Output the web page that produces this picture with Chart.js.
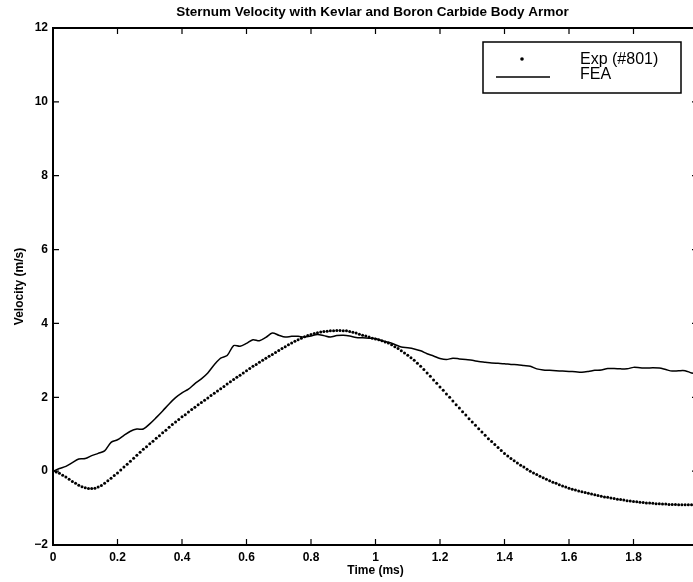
<!DOCTYPE html>
<html>
<head>
<meta charset="utf-8">
<script src="https://cdn.jsdelivr.net/npm/chart.js@4/dist/chart.umd.min.js"></script>
<style>
html,body{margin:0;padding:0;background:#fff;overflow:hidden;}
canvas{display:block;}
</style>
</head>
<body>
<canvas id="c" width="700" height="582"></canvas>
<script>
// ---- data ----
const chartTitle = 'Sternum Velocity with Kevlar and Boron Carbide Body Armor';
const xTitle = 'Time (ms)';
const yTitle = 'Velocity (m/s)';
const seriesNames = ['Exp (#801)', 'FEA'];
const xTickLabels = ['0','0.2','0.4','0.6','0.8','1','1.2','1.4','1.6','1.8','2'];
const yTickLabels = ['\u22122','0','2','4','6','8','10','12'];

// Exp (#801): sampled every 0.01 ms from 0 to 2 ms
const expStart = 0, expStep = 0.01;
const expVelocity = [
 0.00,-0.02,-0.06,-0.11,-0.16,-0.22,-0.28,-0.33,-0.38,-0.42,
-0.45,-0.47,-0.47,-0.46,-0.43,-0.39,-0.33,-0.26,-0.19,-0.12,
-0.05, 0.03, 0.11, 0.19, 0.27, 0.35, 0.43, 0.51, 0.59, 0.66,
 0.74, 0.81, 0.89, 0.96, 1.04, 1.11, 1.19, 1.26, 1.33, 1.40,
 1.47, 1.53, 1.60, 1.67, 1.73, 1.80, 1.86, 1.92, 1.98, 2.05,
 2.11, 2.17, 2.23, 2.29, 2.36, 2.42, 2.48, 2.54, 2.60, 2.66,
 2.72, 2.78, 2.84, 2.89, 2.95, 3.00, 3.06, 3.11, 3.16, 3.21,
 3.27, 3.32, 3.37, 3.42, 3.47, 3.52, 3.56, 3.60, 3.64, 3.67,
 3.70, 3.73, 3.75, 3.77, 3.78, 3.79, 3.80, 3.80, 3.81, 3.81,
 3.80, 3.80, 3.78, 3.76, 3.74, 3.71, 3.68, 3.66, 3.63, 3.60,
 3.58, 3.56, 3.53, 3.50, 3.47, 3.42, 3.37, 3.32, 3.26, 3.20,
 3.14, 3.07, 3.00, 2.92, 2.84, 2.75, 2.66, 2.57, 2.47, 2.38,
 2.28, 2.19, 2.09, 2.00, 1.90, 1.80, 1.71, 1.61, 1.52, 1.42,
 1.33, 1.24, 1.15, 1.06, 0.97, 0.88, 0.80, 0.72, 0.64, 0.56,
 0.48, 0.41, 0.34, 0.28, 0.22, 0.16, 0.11, 0.05, 0.00,-0.05,
-0.09,-0.14,-0.18,-0.22,-0.26,-0.30,-0.33,-0.37,-0.40,-0.43,
-0.46,-0.49,-0.51,-0.54,-0.56,-0.58,-0.60,-0.62,-0.64,-0.66,
-0.68,-0.70,-0.71,-0.73,-0.74,-0.76,-0.77,-0.78,-0.80,-0.81,
-0.82,-0.83,-0.84,-0.85,-0.86,-0.86,-0.87,-0.88,-0.88,-0.89,
-0.89,-0.90,-0.90,-0.90,-0.91,-0.91,-0.91,-0.91,-0.91,-0.91,
-0.91
];

// FEA: sampled every 0.02 ms from 0 to 2 ms
const feaStart = 0, feaStep = 0.02;
const feaVelocity = [
 0.00, 0.07, 0.13, 0.23, 0.33, 0.34, 0.42, 0.48, 0.55, 0.78,
 0.85, 0.97, 1.08, 1.14, 1.14, 1.28, 1.45, 1.63, 1.82, 1.99,
 2.12, 2.22, 2.37, 2.50, 2.66, 2.88, 3.06, 3.13, 3.40, 3.38,
 3.46, 3.56, 3.53, 3.62, 3.74, 3.68, 3.63, 3.65, 3.65, 3.63,
 3.66, 3.70, 3.67, 3.63, 3.67, 3.68, 3.66, 3.62, 3.61, 3.60,
 3.59, 3.53, 3.49, 3.43, 3.36, 3.34, 3.31, 3.26, 3.18, 3.12,
 3.05, 3.02, 3.06, 3.04, 3.02, 3.00, 2.97, 2.95, 2.93, 2.92,
 2.91, 2.89, 2.88, 2.86, 2.84, 2.77, 2.74, 2.73, 2.72, 2.71,
 2.70, 2.69, 2.68, 2.70, 2.73, 2.74, 2.78, 2.78, 2.77, 2.77,
 2.81, 2.80, 2.79, 2.80, 2.79, 2.75, 2.71, 2.72, 2.72, 2.66,
 2.63
];

// ---- build point tables for the library ----
const expPoints = expVelocity.map((v, i) => ({x: +(expStart + i * expStep).toFixed(3), y: v}));
const feaPoints = feaVelocity.map((v, i) => ({x: +(feaStart + i * feaStep).toFixed(3), y: v}));

const FONT = '"Liberation Sans", Arial, Helvetica, sans-serif';

const framePlugin = {
  id: 'frame',
  afterDraw(chart) {
    const ctx = chart.ctx;
    const a = chart.chartArea;
    const xs = chart.scales.x, ys = chart.scales.y;
    ctx.save();
    ctx.strokeStyle = '#000';
    // box
    ctx.lineWidth = 2;
    ctx.beginPath();
    ctx.moveTo(a.left, a.bottom); ctx.lineTo(a.left, a.top); ctx.lineTo(a.right, a.top);
    ctx.lineTo(a.right, a.bottom); ctx.closePath();
    ctx.stroke();
    // inward ticks
    ctx.lineWidth = 1.2;
    const tl = 6;
    ctx.beginPath();
    xs.ticks.forEach(t => {
      const px = xs.getPixelForValue(t.value);
      ctx.moveTo(px, a.bottom); ctx.lineTo(px, a.bottom - tl);
      ctx.moveTo(px, a.top); ctx.lineTo(px, a.top + tl);
    });
    ys.ticks.forEach(t => {
      const py = ys.getPixelForValue(t.value);
      ctx.moveTo(a.left, py); ctx.lineTo(a.left + tl, py);
      ctx.moveTo(a.right, py); ctx.lineTo(a.right - tl, py);
    });
    ctx.stroke();
    // title
    ctx.fillStyle = '#000';
    ctx.font = 'bold 13.5px ' + FONT;
    ctx.textAlign = 'center';
    ctx.textBaseline = 'middle';
    ctx.fillText(chartTitle, (a.left + a.right) / 2 - 3, 12);
    // legend
    const lx = 483, ly = 42, lw = 198, lh = 51;
    ctx.lineWidth = 1.5;
    ctx.fillStyle = '#fff';
    ctx.fillRect(lx, ly, lw, lh);
    ctx.strokeRect(lx, ly, lw, lh);
    ctx.fillStyle = '#000';
    ctx.beginPath();
    ctx.arc(522, 59, 1.8, 0, Math.PI * 2);
    ctx.fill();
    ctx.beginPath();
    ctx.moveTo(496, 77); ctx.lineTo(550, 77);
    ctx.stroke();
    ctx.font = '16px ' + FONT;
    ctx.textAlign = 'left';
    ctx.textBaseline = 'alphabetic';
    ctx.fillText(chart.data.datasets[0].label, 580, 64);
    ctx.fillText(chart.data.datasets[1].label, 580, 79);
    ctx.restore();
  }
};

new Chart(document.getElementById('c'), {
  type: 'scatter',
  data: {
    datasets: [
      {
        label: seriesNames[0],
        data: expPoints,
        showLine: false,
        pointRadius: 1.5,
        pointHoverRadius: 1.5,
        pointBackgroundColor: '#000',
        pointBorderWidth: 0,
        borderColor: '#000'
      },
      {
        label: seriesNames[1],
        data: feaPoints,
        showLine: true,
        tension: 0.3,
        borderColor: '#000',
        borderWidth: 1.5,
        pointRadius: 0,
        fill: false
      }
    ]
  },
  options: {
    responsive: false,
    animation: false,
    devicePixelRatio: 1,
    layout: {padding: {top: 28, right: 2, left: 0, bottom: 0}},
    plugins: {
      legend: {display: false},
      title: {display: false},
      tooltip: {enabled: false}
    },
    scales: {
      x: {
        type: 'linear',
        min: 0, max: 2,
        grid: {display: false, drawTicks: false},
        border: {display: false},
        ticks: {
          stepSize: 0.2,
          padding: 5,
          color: '#000',
          font: {family: FONT, size: 12, weight: 'bold'},
          maxRotation: 0,
          autoSkip: false,
          callback: (v) => xTickLabels[Math.round(v / 0.2)] ?? ''
        },
        title: {display: true, text: xTitle, color: '#000',
                font: {family: FONT, size: 12, weight: 'bold'}, padding: {top: 0, bottom: 4}},
        afterFit: (s) => { s.height = 37; s.paddingLeft = 0; s.paddingRight = 0; }
      },
      y: {
        type: 'linear',
        min: -2, max: 12,
        grid: {display: false, drawTicks: false},
        border: {display: false},
        ticks: {
          stepSize: 2,
          padding: 5,
          color: '#000',
          font: {family: FONT, size: 12, weight: 'bold'},
          callback: (v) => yTickLabels[Math.round((v + 2) / 2)] ?? ''
        },
        title: {display: true, text: yTitle, color: '#000',
                font: {family: FONT, size: 12, weight: 'bold'}, padding: {top: 12, bottom: 0}},
        afterFit: (s) => { s.width = 53; s.paddingTop = 0; s.paddingBottom = 0; }
      }
    }
  },
  plugins: [framePlugin]
});
</script>
</body>
</html>
